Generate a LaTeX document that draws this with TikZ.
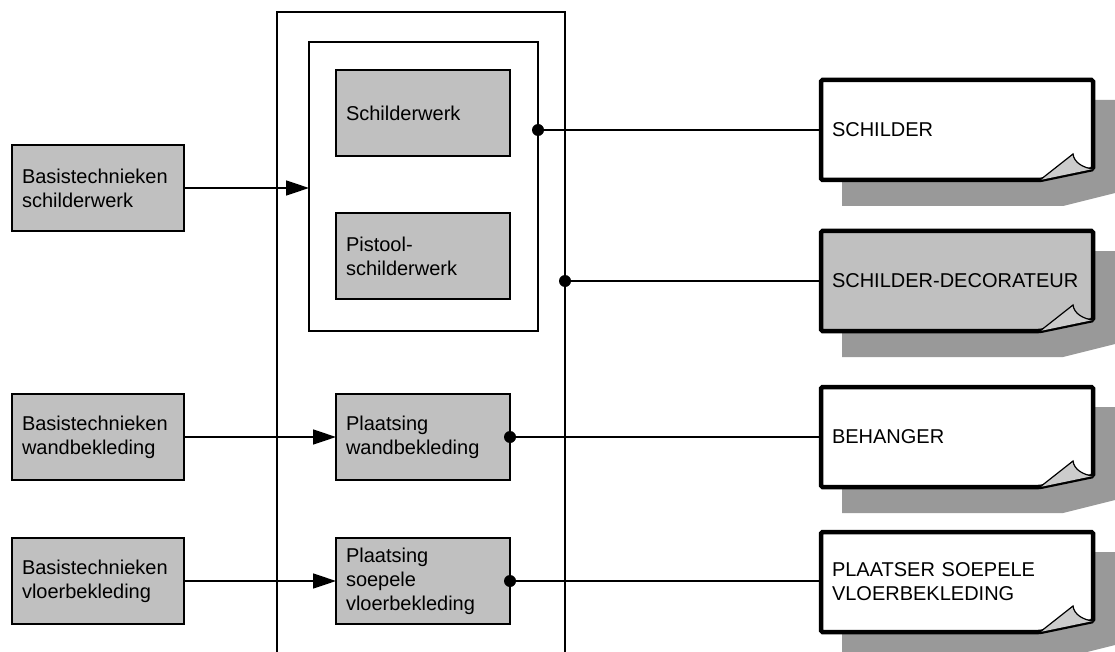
\documentclass[tikz,border=0pt]{standalone}
\usepackage{fontspec}
\setmainfont{Liberation Sans}
\usetikzlibrary{arrows.meta, calc}
\definecolor{vakgrijs}{RGB}{192,192,192}
\definecolor{schaduwgrijs}{RGB}{153,153,153}
\definecolor{vouwgrijs}{RGB}{204,204,204}
\tikzset{
  every node/.style={font=\fontsize{20}{24}\selectfont, outer sep=0pt},
  lijn/.style={line width=1.5pt},
  vak/.style={draw, line width=1.5pt, fill=vakgrijs, align=left, inner xsep=10pt, inner ysep=2pt, text width=#1, minimum height=86pt},
  vak/.default=152pt,
  kader/.style={draw, line width=1.5pt, minimum width=#1},
  blad/.style={align=left, inner xsep=11pt, text width=250pt, minimum height=100pt},
  pijl/.style={lijn, -{Triangle[length=23pt, width=15pt]}},
}

% blad met omgekrulde hoek en schaduw
\newcommand{\blad}[4]{%
  \coordinate (#1-m) at (#2);
  \fill[schaduwgrijs] ($(#1-m)+(-115,-30)$) -- ($(#1-m)+(158,-30)$) -- ($(#1-m)+(158,63)$)
    -- ($(#1-m)+(106,76)$) -- ($(#1-m)+(-115,76)$) -- cycle;
  \filldraw[fill=#3, line width=4.5pt, rounded corners=1.5pt] ($(#1-m)+(-136,-50)$) -- ($(#1-m)+(136,-50)$)
    -- ($(#1-m)+(136,39)$) -- ($(#1-m)+(83,50)$) -- ($(#1-m)+(-136,50)$) -- cycle;
  \filldraw[fill=vouwgrijs, line width=1.2pt] ($(#1-m)+(83,50)$) -- ($(#1-m)+(116,24)$)
    .. controls ($(#1-m)+(117,33)$) and ($(#1-m)+(127,38)$) .. ($(#1-m)+(136,39)$);
  \node[blad] (#1) at (#1-m) {#4};
}

\begin{document}
\begin{tikzpicture}[x=1pt, y=-1pt]
  \useasboundingbox (0,0) rectangle (1115,652);
  \clip (0,0) rectangle (1115,652);

  \node[kader=288pt, minimum height=688pt] (buiten) at (421,356) {};
  \node[kader=229pt, minimum height=289pt] (groep) at (423.5,186.5) {};

  \node[vak] (basis1) at (98,188) {Basistechnieken\\schilderwerk};
  \node[vak] (basis2) at (98,437) {Basistechnieken\\wandbekleding};
  \node[vak] (basis3) at (98,581) {Basistechnieken\\vloerbekleding};

  \node[vak=154pt] (schilderwerk) at (423,113) {Schilderwerk};
  \node[vak=154pt] (pistool) at (423,256) {Pistool-\\schilderwerk};
  \node[vak=154pt] (wand) at (423,437) {Plaatsing\\wandbekleding};
  \node[vak=154pt] (vloer) at (423,581) {Plaatsing\\soepele\\vloerbekleding};

  \draw[pijl] (basis1.east) -- (basis1.east -| groep.west);
  \draw[pijl] (basis2.east) -- (wand.west);
  \draw[pijl] (basis3.east) -- (vloer.west);

  \blad{schilder}{957,130}{white}{SCHILDER}
  \blad{decorateur}{957,281}{vakgrijs}{SCHILDER-DECORATEUR}
  \blad{behanger}{957,437}{white}{BEHANGER}
  \blad{plaatser}{957,582}{white}{PLAATSER SOEPELE\\VLOERBEKLEDING}

  \coordinate (p1) at (schilder.west -| groep.east);
  \coordinate (p2) at (decorateur.west -| buiten.east);
  \coordinate (p3) at (wand.east);
  \coordinate (p4) at (vloer.east);

  \draw[lijn] (p1) -- (schilder.west);
  \draw[lijn] (p2) -- (decorateur.west);
  \draw[lijn] (p3) -- (p3 -| behanger.west);
  \draw[lijn] (p4) -- (p4 -| plaatser.west);
  \foreach \p in {p1,p2,p3,p4}
    \fill (\p) circle[radius=6pt];
\end{tikzpicture}
\end{document}
